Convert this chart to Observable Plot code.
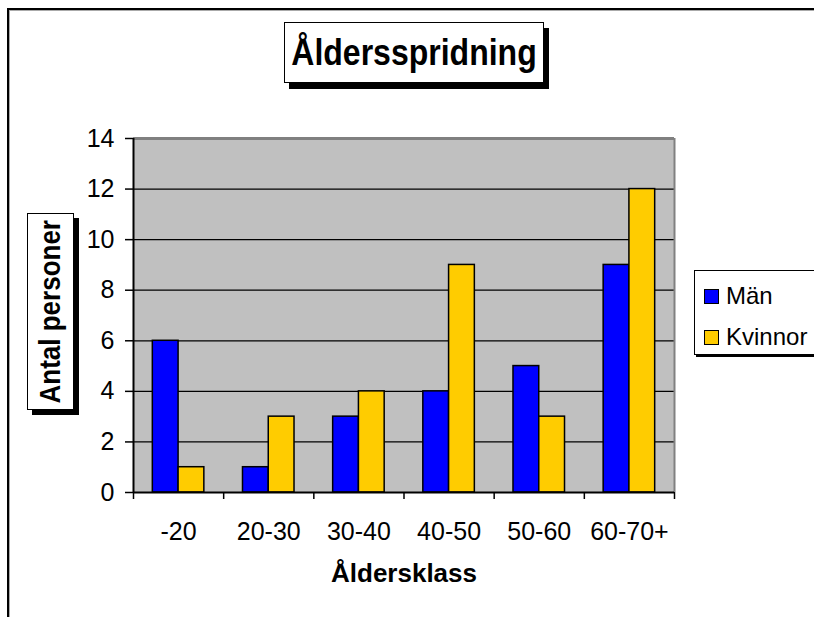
<!DOCTYPE html>
<html>
<head>
<meta charset="utf-8">
<script src="https://cdn.jsdelivr.net/npm/d3@7"></script>
<script src="https://cdn.jsdelivr.net/npm/@observablehq/plot@0.6"></script>
<style>
  html, body { margin: 0; padding: 0; background: #fff; overflow: hidden; }
  body { font-family: "Liberation Sans", Arial, sans-serif; }
  #wrap { position: relative; width: 814px; height: 617px; overflow: hidden; }
  #chart { position: absolute; left: 0; top: 0; }
  .outer { position: absolute; left: 7px; top: 8px; width: 900px; height: 700px; border: 2.5px solid #000; box-shadow: inset 1px 1px 0 #aaa; box-sizing: border-box; }
  .title { position: absolute; left: 284px; top: 22px; width: 260px; height: 61px; box-sizing: border-box; border: 1.5px solid #000; background: #fff; box-shadow: 5px 6px 0 #000; display: flex; align-items: center; justify-content: center; }
  .title span { font-weight: bold; font-size: 32px; display: inline-block; transform: scaleY(1.15); white-space: nowrap; }
  .ytitle { position: absolute; left: 27px; top: 213px; width: 47px; height: 197px; box-sizing: border-box; border: 1.5px solid #000; background: #fff; box-shadow: 5px 5px 0 #000; display: flex; align-items: center; justify-content: center; }
  .ytitle span { writing-mode: vertical-rl; transform: rotate(180deg) scaleX(1.15); font-weight: bold; font-size: 26px; white-space: nowrap; }
  .legend { position: absolute; left: 694px; top: 270px; width: 160px; height: 85px; box-sizing: border-box; border: 1.5px solid #000; background: #fff; box-shadow: 2px 2px 0 #000; }
  .item { position: absolute; left: 9px; display: flex; align-items: center; font-size: 24px; height: 26px; }
  .sw { width: 13px; height: 13px; border: 1.5px solid #000; margin-right: 7px; }
</style>
</head>
<body>
<div id="wrap">
  <div class="outer"></div>
  <div id="chart"></div>
  <div class="title"><span id="ttl"></span></div>
  <div class="ytitle"><span id="ylab"></span></div>
  <div class="legend" id="legend"></div>
</div>
<script>
// ---- data ----
const chartTitle = "Åldersspridning";
const xTitle = "Åldersklass";
const yTitle = "Antal personer";
const categories = ["-20", "20-30", "30-40", "40-50", "50-60", "60-70+"];
const series = ["Män", "Kvinnor"];
const man = [6, 1, 3, 4, 5, 9];
const kvinnor = [1, 3, 4, 9, 3, 12];
const colors = ["#0000FF", "#FFCC00"];
const yTicks = [0, 2, 4, 6, 8, 10, 12, 14];

document.getElementById("ttl").textContent = chartTitle;
document.getElementById("ylab").textContent = yTitle;

// grouped-bar layout: 2 bars + 150% gap per category
const barW = 1 / (series.length + 1.5);
const rows = categories.flatMap((cat, i) =>
  [man, kvinnor].map((vals, s) => ({
    cat, series: series[s],
    x1: i + 0.75 * barW + s * barW,
    x2: i + 0.75 * barW + (s + 1) * barW,
    value: vals[i]
  }))
);

const plot = Plot.plot({
  width: 814,
  height: 617,
  marginLeft: 133,
  marginRight: 140,
  marginTop: 138,
  marginBottom: 125,
  style: { fontFamily: "'Liberation Sans', Arial, sans-serif", fontSize: "25px", color: "#000", background: "transparent" },
  x: { domain: [0, categories.length] },
  y: { domain: [0, 14] },
  color: { domain: series, range: colors },
  marks: [
    Plot.frame({ fill: "#c0c0c0", stroke: "none" }),
    Plot.ruleY(yTicks.filter(v => v > 0 && v < 14), { stroke: "#000", strokeWidth: 1.2 }),
    Plot.rectY(rows, { x1: "x1", x2: "x2", y: "value", fill: "series", stroke: "#000", strokeWidth: 1.5 }),
    Plot.ruleY([14], { stroke: "#808080", strokeWidth: 3 }),
    Plot.ruleX([categories.length], { stroke: "#808080", strokeWidth: 2 }),
    Plot.ruleX([0], { stroke: "#000", strokeWidth: 2 }),
    Plot.ruleY([0], { stroke: "#000", strokeWidth: 2 }),
    Plot.axisY({ ticks: yTicks, tickSize: 8, tickPadding: 11, tickFormat: d => String(d), label: null, strokeWidth: 1.5 }),
    Plot.axisX({ ticks: d3.range(categories.length + 1), tickSize: 7, tickFormat: () => "", label: null, strokeWidth: 1.5 }),
    Plot.axisX({ ticks: categories.map((_, i) => i + 0.5), tickSize: 0, tickPadding: 30, tickFormat: d => categories[Math.floor(d)], label: null }),
    Plot.text([xTitle], { frameAnchor: "bottom", dy: 89, fontWeight: "bold", fontSize: 26 })
  ]
});
document.getElementById("chart").appendChild(plot);

// legend
const legend = document.getElementById("legend");
series.forEach((s, k) => {
  const it = document.createElement("div");
  it.className = "item";
  it.style.top = (12 + k * 41) + "px";
  it.innerHTML = `<div class="sw" style="background:${colors[k]}"></div><span>${s}</span>`;
  legend.appendChild(it);
});
</script>
</body>
</html>
